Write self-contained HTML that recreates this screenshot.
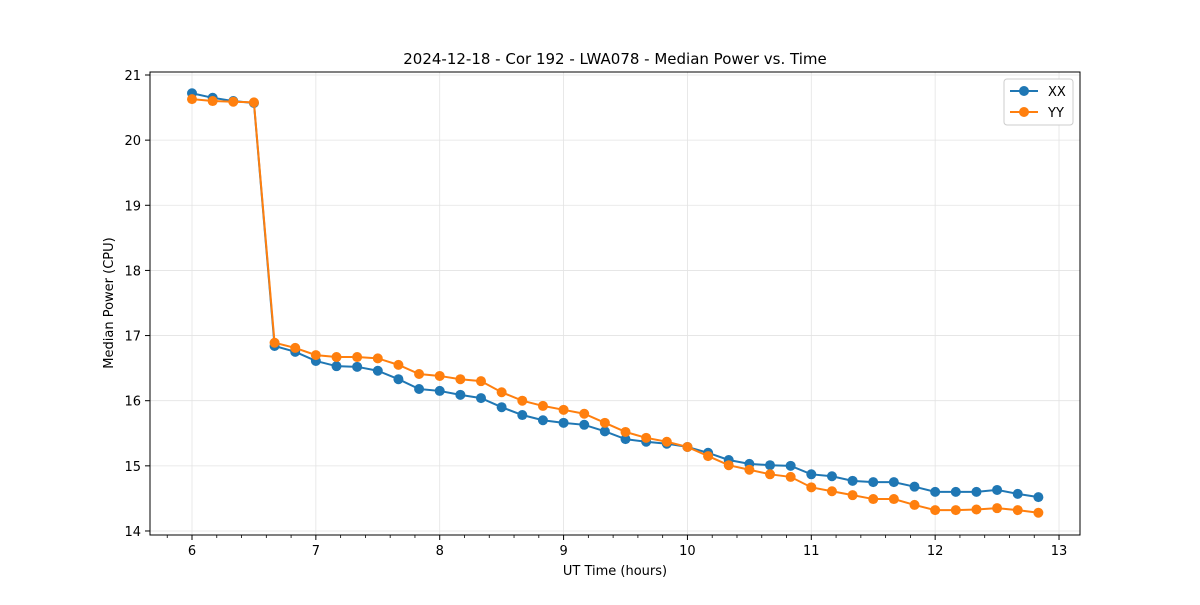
<!DOCTYPE html>
<html><head><meta charset="utf-8"><style>
body{margin:0;background:#fff;font-family:"Liberation Sans","DejaVu Sans",sans-serif}
svg text{font-family:"DejaVu Sans","Liberation Sans",sans-serif}
</style></head><body>
<svg id="chart" width="1200" height="600" viewBox="0 0 1200 600">
<rect width="1200" height="600" fill="#fff"/>
<text x="615" y="64" font-size="15" text-anchor="middle">2024-12-18 - Cor 192 - LWA078 - Median Power vs. Time</text>
<g id="grid"></g><g id="axes"></g><g id="series"></g>
<rect x="150" y="72" width="930" height="463" fill="none" stroke="#000" stroke-width="1"/>
<text x="615" y="575" font-size="13" text-anchor="middle">UT Time (hours)</text>
<text transform="translate(113,303) rotate(-90)" font-size="13" text-anchor="middle">Median Power (CPU)</text>
<g>
<rect x="1004" y="79" width="69" height="46" rx="3" fill="#fff" stroke="#ccc"/>
<g><line x1="1010" y1="91" x2="1038" y2="91" stroke="#1f77b4" stroke-width="2"/><circle cx="1024" cy="91" r="5" fill="#1f77b4"/><text x="1048" y="96" font-size="13">XX</text></g>
<g><line x1="1010" y1="112" x2="1038" y2="112" stroke="#ff7f0e" stroke-width="2"/><circle cx="1024" cy="112" r="5" fill="#ff7f0e"/><text x="1048" y="117" font-size="13">YY</text></g>
</g>
</svg>
<script>
const times=[];for(let k=0;k<42;k++)times.push(6+k/6);
const xxValues=[20.72,20.65,20.6,20.57,16.84,16.75,16.61,16.53,16.52,16.46,16.33,16.18,16.15,16.09,16.04,15.9,15.78,15.70,15.66,15.63,15.53,15.41,15.37,15.34,15.29,15.2,15.09,15.03,15.01,15.0,14.87,14.84,14.77,14.75,14.75,14.68,14.6,14.6,14.6,14.63,14.57,14.52];
const yyValues=[20.63,20.6,20.59,20.58,16.89,16.81,16.7,16.67,16.67,16.65,16.55,16.41,16.38,16.33,16.3,16.13,16.0,15.92,15.86,15.8,15.66,15.52,15.43,15.37,15.29,15.15,15.01,14.94,14.87,14.83,14.67,14.61,14.55,14.49,14.49,14.4,14.32,14.32,14.33,14.35,14.32,14.28];
const xTicks=[6,7,8,9,10,11,12,13];
const yTicks=[14,15,16,17,18,19,20,21];
const NS='http://www.w3.org/2000/svg';
function X(v){return 192+(v-6)*123.86;}
function Y(v){return 75+(21-v)*65.14;}
function mk(tag,attrs,parent){const e=document.createElementNS(NS,tag);for(const k in attrs)e.setAttribute(k,attrs[k]);parent.appendChild(e);return e;}
const grid=document.getElementById('grid'),axes=document.getElementById('axes'),ser=document.getElementById('series');
xTicks.forEach(t=>{
 const g=mk('line',{x1:X(t),x2:X(t),y1:72,y2:535,stroke:'#e3e3e3','stroke-width':0.8},grid);
 
 
 mk('line',{x1:X(t),x2:X(t),y1:535,y2:540,stroke:'#000'},axes);
 const tx=mk('text',{x:X(t),y:555,'font-size':13,'text-anchor':'middle'},axes);tx.textContent=t;
 
 
});
for(let m=5.8;m<13.1;m+=0.2){if(Math.abs(m-Math.round(m))<0.01)continue;if(X(m)<150||X(m)>1080)continue;mk('line',{x1:X(m),x2:X(m),y1:535,y2:538,stroke:'#000','stroke-width':0.8},axes);}
yTicks.forEach(t=>{
 const g=mk('line',{x1:150,x2:1080,y1:Y(t),y2:Y(t),stroke:'#e3e3e3','stroke-width':0.8},grid);
 
 
 mk('line',{x1:145,x2:150,y1:Y(t),y2:Y(t),stroke:'#000'},axes);
 const tx=mk('text',{x:141,y:Y(t)+5,'font-size':13,'text-anchor':'end'},axes);tx.textContent=t;
 
 
});
function draw(vals,color,name){
 const g=mk('g',{},ser);
 
 
 mk('polyline',{points:vals.map((v,i)=>X(times[i])+','+Y(v)).join(' '),fill:'none',stroke:color,'stroke-width':2},g);
 vals.forEach((v,i)=>{const c=mk('circle',{cx:X(times[i]),cy:Y(v),r:5,fill:color},g);
  
  });
}
draw(xxValues,'#1f77b4','series-xx');
draw(yyValues,'#ff7f0e','series-yy');
</script>
</body></html>
